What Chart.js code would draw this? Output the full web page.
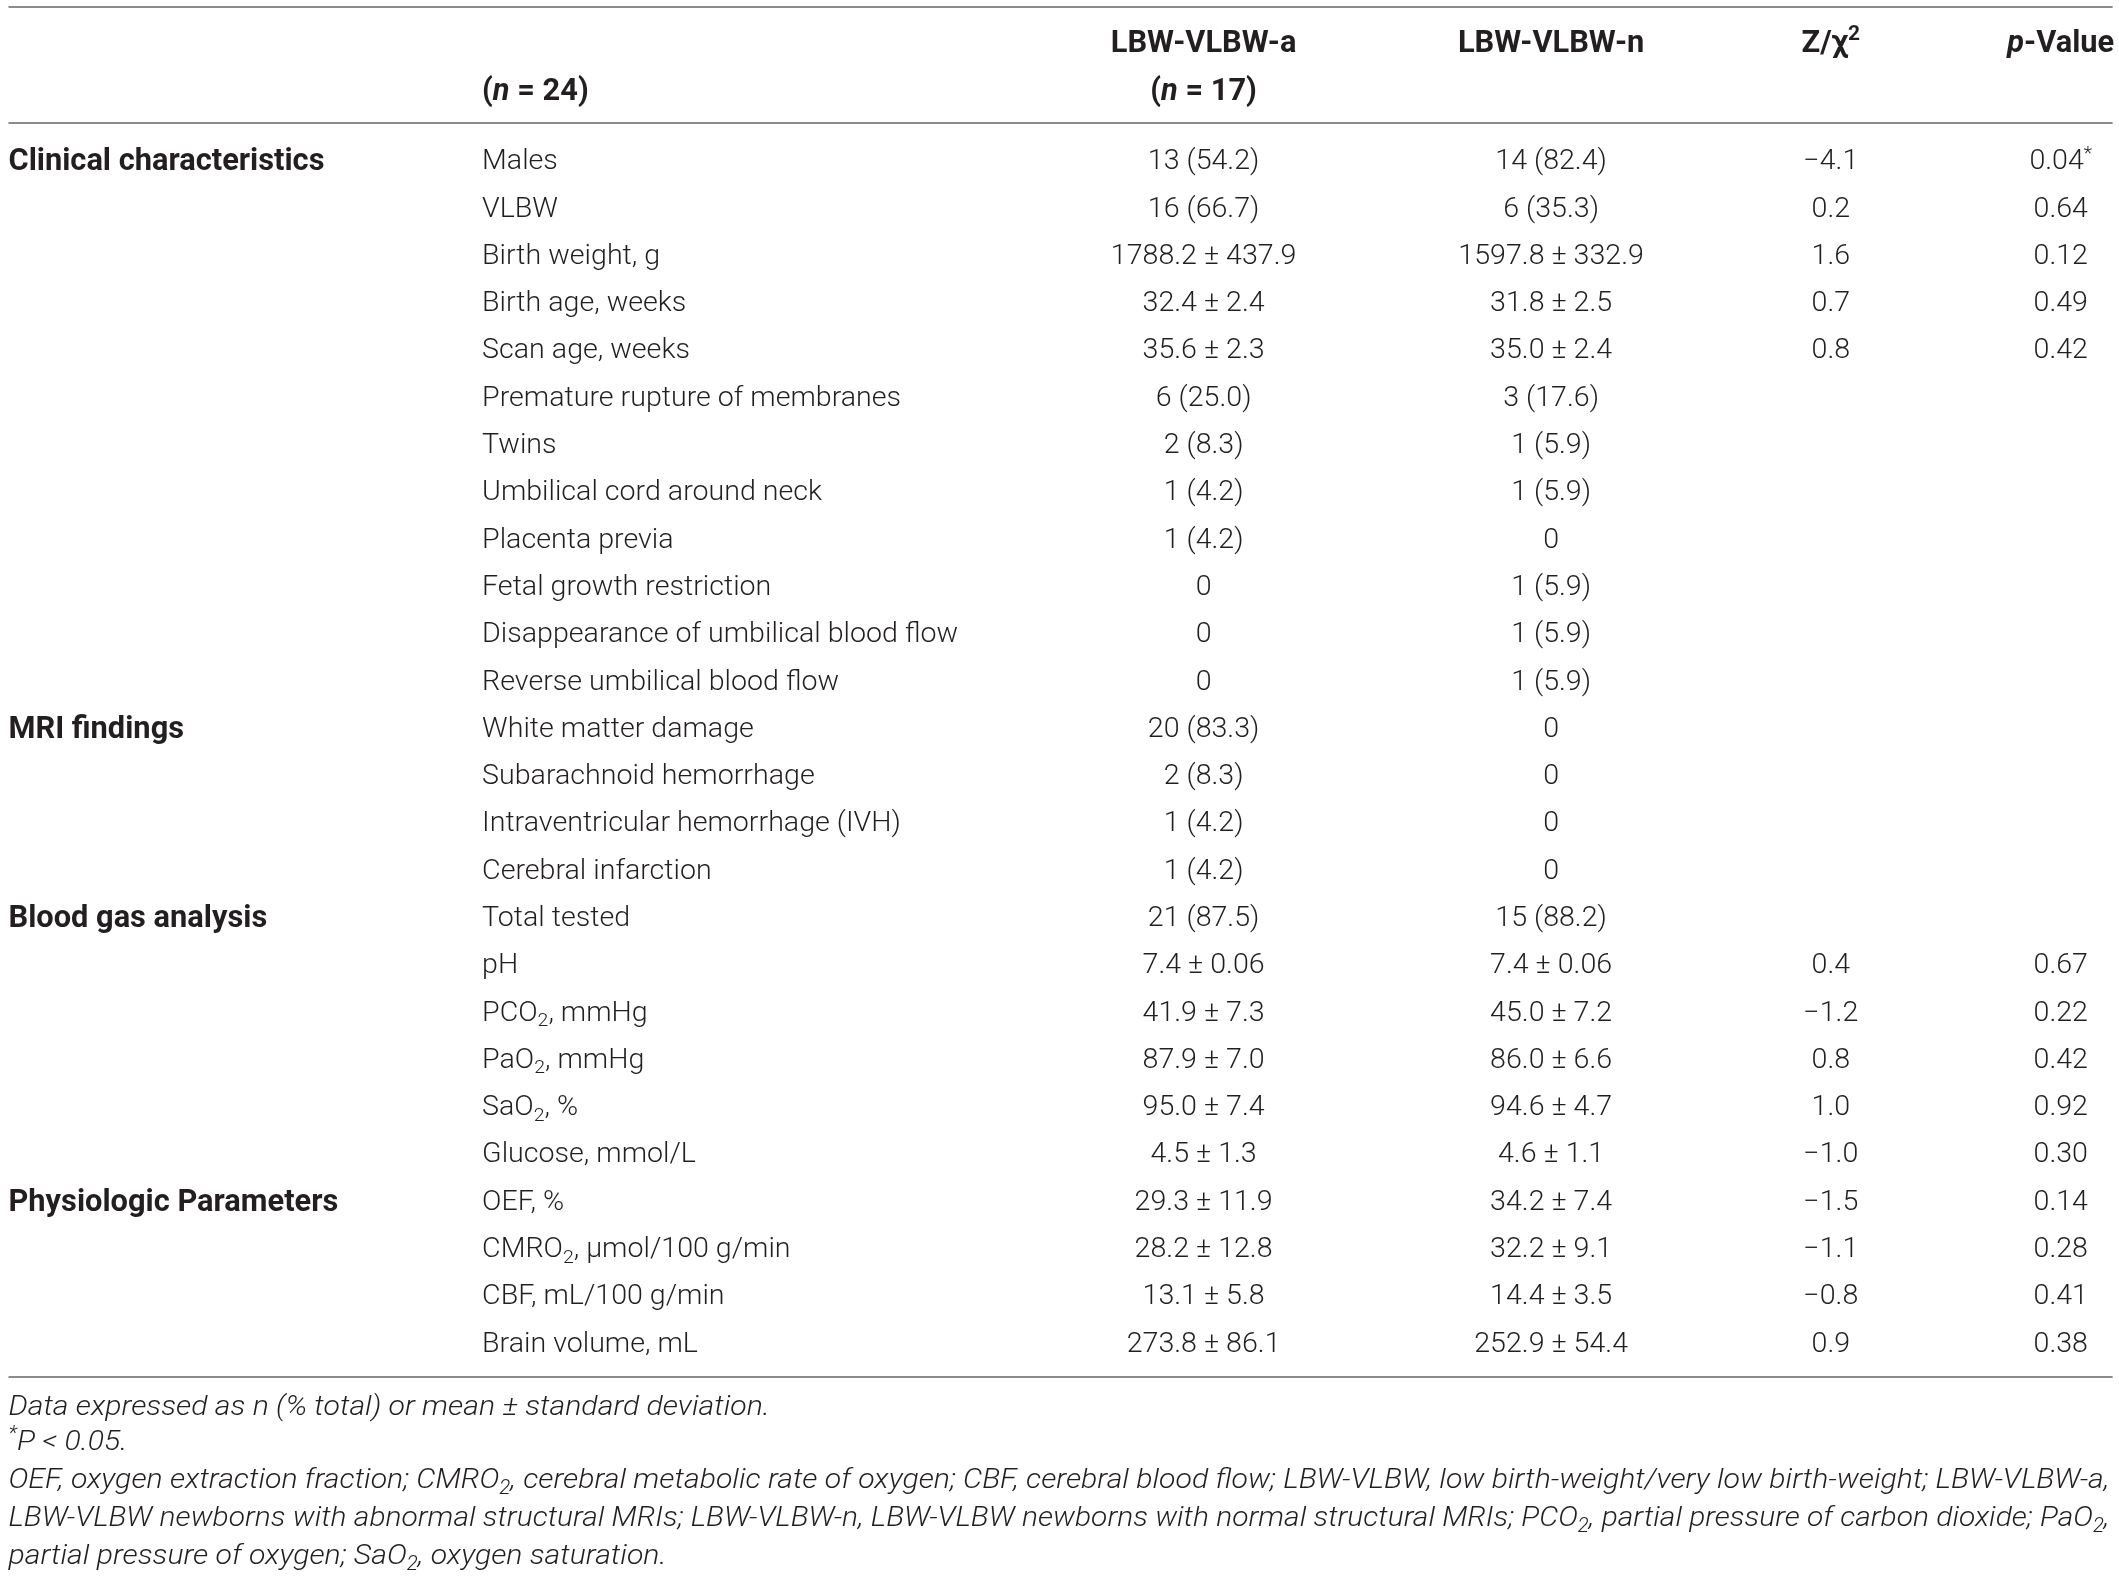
<!DOCTYPE html>
<html>
<head>
<meta charset="utf-8">
<script src="https://cdn.jsdelivr.net/npm/chart.js@4.4.1/dist/chart.umd.min.js"></script>
<style>
  html, body { margin: 0; padding: 0; background: #fff; }
  #wrap { width: 2119px; height: 1576px; }
</style>
</head>
<body>
<div id="wrap"><canvas id="tbl" width="2119" height="1576"></canvas></div>
<script>
// table content
var headerRow1 = ['', '', 'LBW-VLBW-a', 'LBW-VLBW-n', 'Z/\u03c7^{2}', '~{p}-Value'];
var headerRow2 = ['', '(~{n} = 24)', '(~{n} = 17)', '', '', ''];

var groupLabels = ['Clinical characteristics', 'MRI findings', 'Blood gas analysis', 'Physiologic Parameters'];
var groupRows = [0, 12, 16, 22];

var items = [
  'Males', 'VLBW', 'Birth weight, g', 'Birth age, weeks', 'Scan age, weeks',
  'Premature rupture of membranes', 'Twins', 'Umbilical cord around neck', 'Placenta previa',
  'Fetal growth restriction', 'Disappearance of umbilical blood flow', 'Reverse umbilical blood flow',
  'White matter damage', 'Subarachnoid hemorrhage', 'Intraventricular hemorrhage (IVH)', 'Cerebral infarction',
  'Total tested', 'pH', 'PCO_{2}, mmHg', 'PaO_{2}, mmHg', 'SaO_{2}, %', 'Glucose, mmol/L',
  'OEF, %', 'CMRO_{2}, \u03bcmol/100 g/min', 'CBF, mL/100 g/min', 'Brain volume, mL'
];
var groupA = [
  '13 (54.2)', '16 (66.7)', '1788.2 \u00b1 437.9', '32.4 \u00b1 2.4', '35.6 \u00b1 2.3',
  '6 (25.0)', '2 (8.3)', '1 (4.2)', '1 (4.2)', '0', '0', '0',
  '20 (83.3)', '2 (8.3)', '1 (4.2)', '1 (4.2)',
  '21 (87.5)', '7.4 \u00b1 0.06', '41.9 \u00b1 7.3', '87.9 \u00b1 7.0', '95.0 \u00b1 7.4', '4.5 \u00b1 1.3',
  '29.3 \u00b1 11.9', '28.2 \u00b1 12.8', '13.1 \u00b1 5.8', '273.8 \u00b1 86.1'
];
var groupN = [
  '14 (82.4)', '6 (35.3)', '1597.8 \u00b1 332.9', '31.8 \u00b1 2.5', '35.0 \u00b1 2.4',
  '3 (17.6)', '1 (5.9)', '1 (5.9)', '0', '1 (5.9)', '1 (5.9)', '1 (5.9)',
  '0', '0', '0', '0',
  '15 (88.2)', '7.4 \u00b1 0.06', '45.0 \u00b1 7.2', '86.0 \u00b1 6.6', '94.6 \u00b1 4.7', '4.6 \u00b1 1.1',
  '34.2 \u00b1 7.4', '32.2 \u00b1 9.1', '14.4 \u00b1 3.5', '252.9 \u00b1 54.4'
];
var zValues = [
  '\u22124.1', '0.2', '1.6', '0.7', '0.8', '', '', '', '', '', '', '',
  '', '', '', '',
  '', '0.4', '\u22121.2', '0.8', '1.0', '\u22121.0',
  '\u22121.5', '\u22121.1', '\u22120.8', '0.9'
];
var pValues = [
  '0.04^{*}', '0.64', '0.12', '0.49', '0.42', '', '', '', '', '', '', '',
  '', '', '', '',
  '', '0.67', '0.22', '0.42', '0.92', '0.30',
  '0.14', '0.28', '0.41', '0.38'
];
var footnotes = [
  'Data expressed as n (% total) or mean \u00b1 standard deviation.',
  '^{*}P < 0.05.',
  'OEF, oxygen extraction fraction; CMRO_{2}, cerebral metabolic rate of oxygen; CBF, cerebral blood flow; LBW-VLBW, low birth-weight/very low birth-weight; LBW-VLBW-a,',
  'LBW-VLBW newborns with abnormal structural MRIs; LBW-VLBW-n, LBW-VLBW newborns with normal structural MRIs; PCO_{2}, partial pressure of carbon dioxide; PaO_{2},',
  'partial pressure of oxygen; SaO_{2}, oxygen saturation.'
];
var footJustified = [false, false, true, true, false];

// layout (x in fraction of width, y in row units; Males = row 0)
var colX = [0.004, 0.2275, 0.568, 0.732, 0.864, 0.9725];
var colAlign = ['left', 'left', 'center', 'center', 'center', 'center'];
var head1Y = -2.5, head2Y = -1.49;
var ruleTop = -3.22, ruleHead = -0.77, ruleBottom = 25.74;
var footY = [26.33, 27.08, 27.88, 28.68, 29.48];
var FAM = 'Roboto, "Liberation Sans", Arial, sans-serif';
var INK = '#231f20';

function parse(str) {
  var out = [];
  str.split(/(_\{[^}]*\}|\^\{[^}]*\}|~\{[^}]*\})/).forEach(function (p) {
    if (!p) return;
    if (p[0] === '_' && p[1] === '{') out.push({ t: p.slice(2, -1), m: 'sub' });
    else if (p[0] === '^' && p[1] === '{') out.push({ t: p.slice(2, -1), m: 'sup' });
    else if (p[0] === '~' && p[1] === '{') out.push({ t: p.slice(2, -1), m: 'it' });
    else out.push({ t: p, m: 'n' });
  });
  return out;
}

function fontFor(seg, st) {
  var size = (seg.m === 'sub' || seg.m === 'sup') ? st.size * 0.68 : st.size;
  var ital = (st.italic || seg.m === 'it') ? 'italic ' : '';
  return ital + st.weight + ' ' + size.toFixed(2) + 'px ' + FAM;
}

function richWidth(ctx, str, st) {
  var w = 0;
  parse(str).forEach(function (s) { ctx.font = fontFor(s, st); w += ctx.measureText(s.t).width; });
  return w;
}

function drawRich(ctx, str, x, y, align, st) {
  if (!str) return;
  var w = richWidth(ctx, str, st);
  var sx = st.scaleX || 1;
  var cx = align === 'center' ? x - w * sx / 2 : x;
  var base = y + st.size * 0.355;
  ctx.save();
  ctx.fillStyle = INK;
  ctx.textBaseline = 'alphabetic';
  ctx.textAlign = 'left';
  ctx.translate(cx, 0);
  ctx.scale(sx, 1);
  var px = 0;
  parse(str).forEach(function (s) {
    ctx.font = fontFor(s, st);
    var dy = s.m === 'sub' ? st.size * 0.2 : (s.m === 'sup' ? -st.size * 0.38 : 0);
    ctx.fillText(s.t, px, base + dy);
    px += ctx.measureText(s.t).width;
  });
  ctx.restore();
}

function fitSize(ctx, str, target, st) {
  var probe = { size: 30, weight: st.weight, italic: st.italic };
  return 30 * target / richWidth(ctx, str, probe);
}

var tablePlugin = {
  id: 'tablePlugin',
  afterDatasetsDraw: function (chart) {
    var ctx = chart.ctx, xs = chart.scales.x, ys = chart.scales.y;
    var body = { weight: 300, size: 27.5 };
    body.scaleX = 476 / richWidth(ctx, 'Disappearance of umbilical blood flow', body);
    var bold = { weight: 700 };
    bold.size = fitSize(ctx, 'Clinical characteristics', 316, bold);
    var foot = { weight: 300, italic: true, size: 28.5 };
    var footW = xs.getPixelForValue(0.9955) - xs.getPixelForValue(colX[0]);
    foot.scaleX = footW / richWidth(ctx, footnotes[2], foot);

    // rules
    ctx.save();
    ctx.strokeStyle = '#8c8c8c';
    ctx.lineWidth = 2;
    [ruleTop, ruleHead, ruleBottom].forEach(function (r) {
      var py = Math.round(ys.getPixelForValue(r));
      ctx.beginPath();
      ctx.moveTo(xs.getPixelForValue(0.004), py);
      ctx.lineTo(xs.getPixelForValue(0.997), py);
      ctx.stroke();
    });
    ctx.restore();

    // header
    headerRow1.forEach(function (h, c) {
      drawRich(ctx, h, xs.getPixelForValue(colX[c]), ys.getPixelForValue(head1Y), colAlign[c], bold);
    });
    headerRow2.forEach(function (h, c) {
      drawRich(ctx, h, xs.getPixelForValue(colX[c]), ys.getPixelForValue(head2Y), colAlign[c], bold);
    });

    // group labels
    groupLabels.forEach(function (g, i) {
      drawRich(ctx, g, xs.getPixelForValue(colX[0]), ys.getPixelForValue(groupRows[i]), 'left', bold);
    });

    // body cells come from the dataset points
    chart.data.datasets.forEach(function (ds, di) {
      var meta = chart.getDatasetMeta(di);
      meta.data.forEach(function (pt, i) {
        drawRich(ctx, ds.cells[i], pt.x, pt.y, ds.align, body);
      });
    });

    // footnotes
    footnotes.forEach(function (f, i) {
      var st = foot;
      if (footJustified[i]) {
        st = { weight: foot.weight, italic: true, size: foot.size };
        st.scaleX = footW / richWidth(ctx, f, st);
      }
      drawRich(ctx, f, xs.getPixelForValue(colX[0]), ys.getPixelForValue(footY[i]), 'left', st);
    });
  }
};

function column(cells, c) {
  return {
    label: 'col' + c,
    cells: cells,
    align: colAlign[c],
    data: cells.map(function (_, i) { return { x: colX[c], y: i }; }),
    pointRadius: 0,
    pointHoverRadius: 0,
    showLine: false
  };
}

new Chart(document.getElementById('tbl'), {
  type: 'scatter',
  data: {
    datasets: [
      column(items, 1), column(groupA, 2), column(groupN, 3), column(zValues, 4), column(pValues, 5)
    ]
  },
  options: {
    responsive: false,
    devicePixelRatio: 1,
    animation: false,
    events: [],
    layout: { padding: 0 },
    plugins: { legend: { display: false }, tooltip: { enabled: false } },
    scales: {
      x: { type: 'linear', display: false, min: 0, max: 1 },
      y: { type: 'linear', display: false, reverse: true, min: -3.372, max: 29.95 }
    }
  },
  plugins: [tablePlugin]
});
</script>
</body>
</html>
